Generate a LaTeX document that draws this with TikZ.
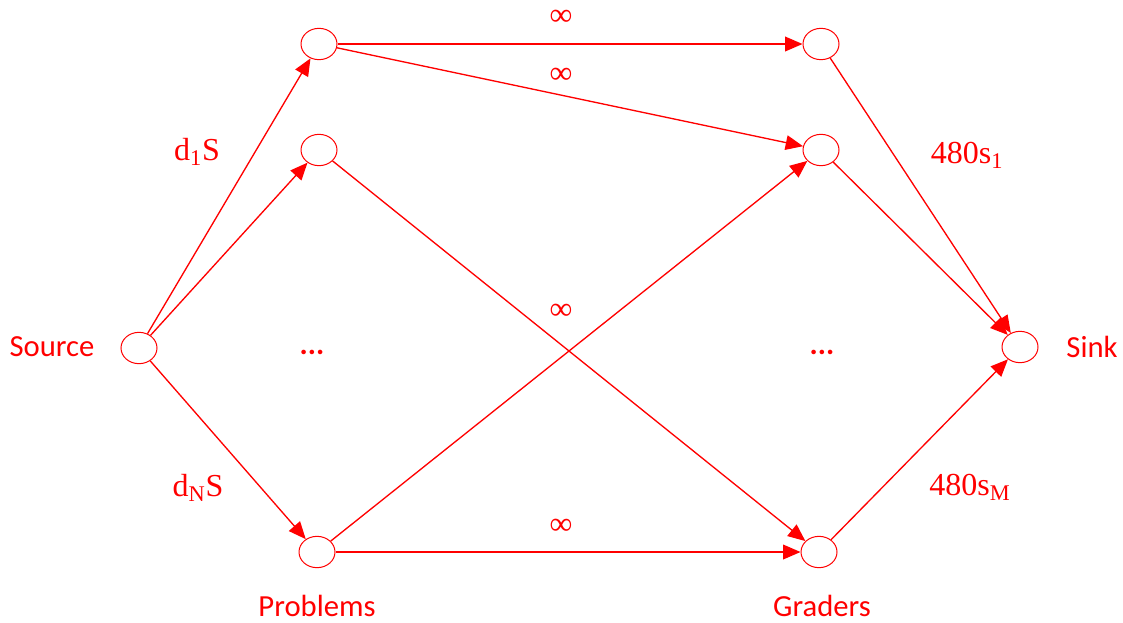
\documentclass[tikz,border=0pt]{standalone}
\usepackage{fontspec}
\setmainfont{Carlito}
\newfontfamily\serlab{Liberation Serif}
\usetikzlibrary{shapes.geometric,arrows.meta}
\begin{document}
\begin{tikzpicture}[x=0.75pt,y=-0.75pt,
  vert/.style={draw=red,ellipse,line width=0.75pt,minimum width=27pt,minimum height=23.5pt,inner sep=0pt},
  flow/.style={draw=red,line width=1pt,-{Triangle[length=13pt,width=11pt]}},
  txt/.style={text=red,font=\fontsize{23}{26}\selectfont,inner sep=0pt},
  mlab/.style={text=red,font=\serlab\fontsize{24}{27}\selectfont,inner sep=0pt}]
\useasboundingbox (0,0) rectangle (1123,622);
\node[vert] (s) at (139,348) {};
\node[vert] (p1) at (319,44) {};
\node[vert] (p2) at (319,150) {};
\node[vert] (p3) at (317,552) {};
\node[vert] (g1) at (821,44) {};
\node[vert] (g2) at (821,150) {};
\node[vert] (g3) at (819,552) {};
\node[vert] (t) at (1020,347) {};
\node[txt] (ls) at (52,347) {Source};
\node[txt] (lt) at (1092,347) {Sink};
\node[txt] (lp) at (317,606) {Problems};
\node[txt] (lg) at (822,606) {Graders};
\node[txt] (dp) at (312,352) {\textbf{...}};
\node[txt] (dg) at (822,352) {\textbf{...}};
\draw[flow] (s) -- (p1);
\draw[flow] (s) -- (p2);
\draw[flow] (s) -- (p3);
\draw[flow] (p1) -- (g1);
\draw[flow] (p1) -- (g2);
\draw[flow] (p2) -- (g3);
\draw[flow] (p3) -- (g2);
\draw[flow] (p3) -- (g3);
\draw[flow] (g1) -- (t);
\draw[flow] (g2) -- (t);
\draw[flow] (g3) -- (t);
\node[mlab] (i1) at (561,18) {∞};
\node[mlab] (i2) at (561,76) {∞};
\node[mlab] (i3) at (561,312) {∞};
\node[mlab] (i4) at (561,527) {∞};
\node[mlab] (d1) at (197,152) {d\textsubscript{1}S};
\node[mlab] (dn) at (198,488) {d\textsubscript{N}S};
\node[mlab] (c1) at (967,155) {480s\textsubscript{1}};
\node[mlab] (cm) at (970,487) {480s\textsubscript{M}};
\end{tikzpicture}
\end{document}
